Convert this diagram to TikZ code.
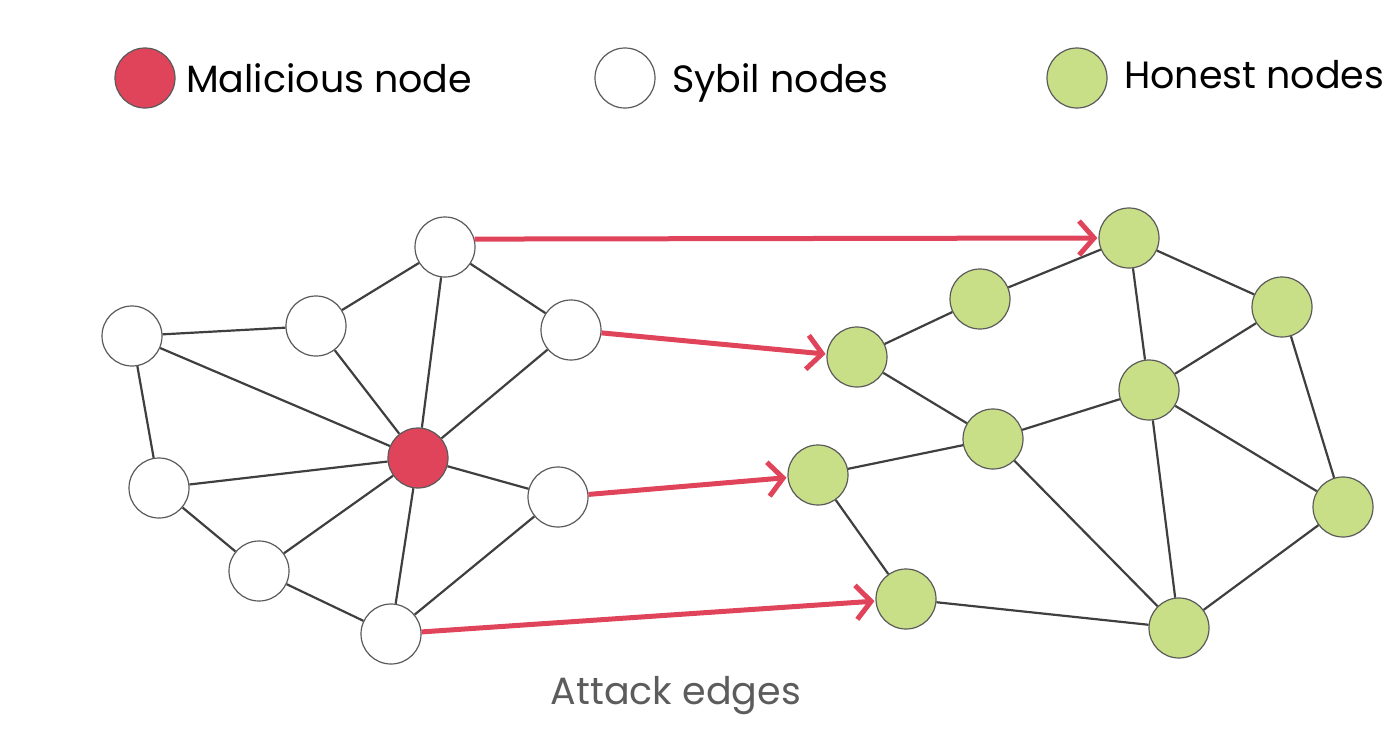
\documentclass[tikz,border=0pt]{standalone}
\usepackage{fontspec}
\setmainfont{Poppins}
\usetikzlibrary{arrows.meta}
\definecolor{malred}{HTML}{E0445A}
\definecolor{honest}{HTML}{C8DF88}
\definecolor{edgegray}{HTML}{3F3F3F}
\definecolor{rimgray}{HTML}{5A5A5A}
\begin{document}
\begin{tikzpicture}[x=1pt,y=-1pt,
  vert/.style={circle,draw=rimgray,line width=1.2pt,minimum size=60pt,inner sep=0pt},
  sybil/.style={vert,fill=white},
  mal/.style={vert,fill=malred},
  hon/.style={vert,fill=honest},
  link/.style={draw=edgegray,line width=2.2pt},
  attack/.style={draw=malred,line width=5pt,-{Straight Barb[length=15pt,width=34pt,line width=5pt]},shorten >=1pt},
  legtext/.style={anchor=base west,font=\fontsize{38}{44}\selectfont,text=black,inner sep=0pt}]
\useasboundingbox (0,0) rectangle (1397,742);
% legend
\node[mal] (lm) at (145,78) {};
\node[legtext] (lmt) at (186,92) {Malicious node};
\node[sybil] (ls) at (625,78) {};
\node[legtext] (lst) at (672,92) {Sybil nodes};
\node[hon] (lh) at (1077,78) {};
\node[legtext] (lht) at (1124,88) {Honest nodes};
% sybil region
\node[sybil] (s1) at (445,247) {};
\node[sybil] (s2) at (316,326) {};
\node[sybil] (s3) at (132,336) {};
\node[sybil] (s4) at (571,330) {};
\node[mal] (m) at (418,458) {};
\node[sybil] (s5) at (159,488) {};
\node[sybil] (s6) at (558,497) {};
\node[sybil] (s7) at (259,571) {};
\node[sybil] (s8) at (391,634) {};
% honest region
\node[hon] (h1) at (1129,238) {};
\node[hon] (h2) at (980,299) {};
\node[hon] (h3) at (1282,307) {};
\node[hon] (h4) at (857,357) {};
\node[hon] (h5) at (1149,390) {};
\node[hon] (h6) at (993,439) {};
\node[hon] (h7) at (818,475) {};
\node[hon] (h8) at (1343,507) {};
\node[hon] (h9) at (906,599) {};
\node[hon] (h10) at (1179,628) {};
% sybil edges
\foreach \a/\b in {s3/s2,s2/s1,s1/s4,s1/m,s2/m,s3/m,s3/s5,s5/m,s5/s7,s7/m,s7/s8,s8/m,s8/s6,s6/m,s4/m}
  \draw[link] (\a) -- (\b);
% honest edges
\foreach \a/\b in {h4/h2,h2/h1,h1/h3,h1/h5,h3/h5,h3/h8,h4/h6,h6/h5,h5/h8,h5/h10,h6/h10,h7/h6,h7/h9,h9/h10,h8/h10}
  \draw[link] (\a) -- (\b);
% attack edges
\draw[attack] (s1.15) -- (h1.180);
\draw[attack] (s4) -- (h4);
\draw[attack] (s6) -- (h7);
\draw[attack] (s8) -- (h9);
\node[font=\fontsize{38}{44}\selectfont,text=edgegray!85] (lbl) at (676,696) {Attack edges};
\end{tikzpicture}
\end{document}
